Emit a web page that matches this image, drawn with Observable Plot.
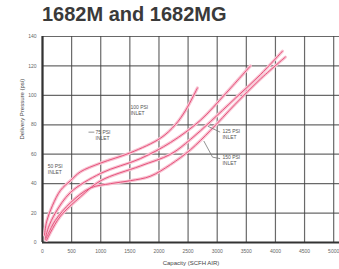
<!DOCTYPE html>
<html>
<head>
<meta charset="utf-8">
<script src="https://cdn.jsdelivr.net/npm/d3@7"></script>
<script src="https://cdn.jsdelivr.net/npm/@observablehq/plot@0.6"></script>
<style>
  html, body { margin: 0; padding: 0; background: #fff; }
  #wrap { position: relative; width: 339px; height: 269px; overflow: hidden; }
  #title { position: absolute; left: 42px; top: 3px; font-family: "Liberation Sans", Arial, sans-serif; font-weight: bold; font-size: 20px; color: #3a3a3a; white-space: nowrap; }
  #chart { position: absolute; left: 0; top: 32px; }
</style>
</head>
<body>
<div id="wrap">
  <div id="title">1682M and 1682MG</div>
  <div id="chart"></div>
</div>
<script>
const xTicks = [0, 500, 1000, 1500, 2000, 2500, 3000, 3500, 4000, 4500, 5000];
const yTicks = [0, 20, 40, 60, 80, 100, 120, 140];

const c1x = [35, 70, 170, 310, 480, 650, 1000, 1510, 2030, 2280, 2460, 2660];
const c1y = [5, 14, 25, 35.5, 42, 48, 54, 61, 71, 80, 90, 105];
const c2x = [50, 100, 220, 480, 1000, 1680, 2200, 2710, 3140, 3570];
const c2y = [3, 10, 20, 34, 47, 57, 68, 83, 101, 120];
const c3x = [70, 140, 310, 650, 1000, 1680, 2200, 2540, 2880, 3310, 3740, 4120];
const c3y = [1.5, 7, 18, 31, 42, 52, 60, 70, 82, 98, 114, 130];
const c4x = [50, 100, 220, 480, 820, 1170, 1510, 1850, 2200, 2540, 2880, 3310, 3740, 4170];
const c4y = [2, 6, 15, 27, 37, 40, 42, 45, 53, 63, 76, 94, 111, 126];

const labelText = ["50 PSI\nINLET", "75 PSI\nINLET", "100 PSI\nINLET", "125 PSI\nINLET", "150 PSI\nINLET"];
const labelX = [90, 910, 1510, 3090, 3090];
const labelY = [50, 73, 90, 74, 56];

const leaderX1 = [790, 2840, 2770, 2920];
const leaderY1 = [75, 79, 69, 58];
const leaderX2 = [890, 3050, 2920, 3050];
const leaderY2 = [75, 75, 58, 57];

const curves = [];
[[c1x, c1y], [c2x, c2y], [c3x, c3y], [c4x, c4y]].forEach(([xs, ys], k) => {
  xs.forEach((x, i) => curves.push({ id: k, x, y: ys[i] }));
});
const labels = labelText.map((t, i) => ({ t, x: labelX[i], y: labelY[i] }));
const leaders = leaderX1.map((x1, i) => ({ x1, y1: leaderY1[i], x2: leaderX2[i], y2: leaderY2[i] }));

const fmt = d3.format("d");
const chart = Plot.plot({
  width: 339,
  height: 237,
  marginLeft: 42,
  marginRight: 0,
  marginTop: 4,
  marginBottom: 27,
  style: { fontFamily: "Liberation Sans, Arial, sans-serif", background: "#fff" },
  x: { domain: [0, 5100], ticks: xTicks, label: null },
  y: { domain: [0, 140], ticks: yTicks, label: null },
  marks: [
    Plot.gridX(xTicks, { stroke: "#444", strokeOpacity: 0.8, strokeWidth: 1.2 }),
    Plot.gridY(yTicks, { stroke: "#444", strokeOpacity: 0.8, strokeWidth: 1.2 }),
    Plot.ruleX([0], { stroke: "#333", strokeWidth: 2.2 }),
    Plot.ruleY([0], { stroke: "#333", strokeWidth: 2.2 }),
    Plot.axisX(xTicks, { tickSize: 0, tickPadding: 7, fontSize: 5, fill: "#666", label: null, tickFormat: fmt }),
    Plot.axisY(yTicks, { tickSize: 0, tickPadding: 6, fontSize: 5, fill: "#666", label: null, tickFormat: fmt }),
    Plot.line(curves, { x: "x", y: "y", z: "id", stroke: "#f8c3d2", strokeWidth: 3.2, curve: "catmull-rom" }),
    Plot.line(curves, { x: "x", y: "y", z: "id", stroke: "#e6537c", strokeWidth: 1, curve: "catmull-rom" }),
    Plot.link(leaders, { x1: "x1", y1: "y1", x2: "x2", y2: "y2", stroke: "#777", strokeWidth: 0.8 }),
    Plot.text(labels, { x: "x", y: "y", text: "t", textAnchor: "start", fontSize: 5, fill: "#555", lineHeight: 1.2 }),
    Plot.text(["Capacity (SCFH AIR)"], { frameAnchor: "bottom", dy: 22, fontSize: 6, fill: "#444" }),
    Plot.text(["Delivery Pressure (psi)"], { frameAnchor: "left", dx: -20, rotate: -90, fontSize: 6, fill: "#444" })
  ]
});
document.getElementById("chart").appendChild(chart);
</script>
</body>
</html>
